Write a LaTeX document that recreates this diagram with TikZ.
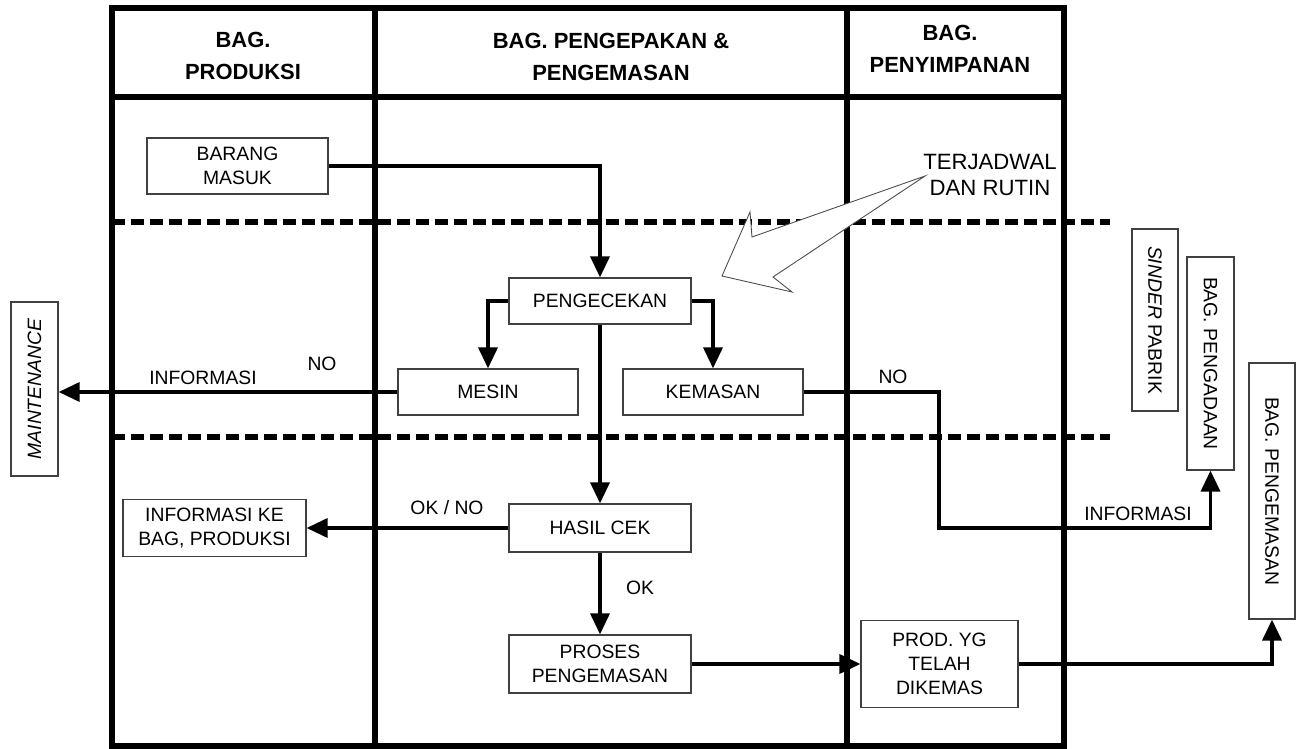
\documentclass[tikz,border=0pt]{standalone}
\usepackage{fontspec}
\setmainfont{Liberation Sans}
\usetikzlibrary{arrows.meta}

\begin{document}
\begin{tikzpicture}[x=0.02cm,y=-0.02cm,
  box/.style={draw=black!75, line width=0.7pt, fill=white, align=center,
    inner sep=0pt, font=\fontsize{11}{13.8}\selectfont},
  lbl/.style={font=\fontsize{11}{13.8}\selectfont, inner sep=0pt, align=center},
  hdr/.style={font=\bfseries\fontsize{12.5}{18}\selectfont, align=center, inner sep=0pt},
  frame/.style={line width=2.9pt},
  sep/.style={line width=3pt, dash pattern=on 0.26cm off 0.12cm},
  conn/.style={line width=2pt, -{Triangle[length=0.42cm,width=0.38cm]}},
  callout/.style={draw=black!70, line width=0.5pt, fill=white, line join=miter},
]
\useasboundingbox (0,0) rectangle (1296,749);

% swimlane frame
\draw[frame] (112,8) rectangle (1064,746);
\draw[frame] (112,97) -- (1064,97);
\draw[frame] (375,8) -- (375,746);
\draw[frame] (847,8) -- (847,746);

% phase separators
\draw[sep] (112,222) -- (1110,222);
\draw[sep] (112,437) -- (1110,437);

% lane headers
\node[hdr] (h1) at (243,56) {BAG.\\PRODUKSI};
\node[hdr] (h2) at (611,57) {BAG. PENGEPAKAN \&\\PENGEMASAN};
\node[hdr] (h3) at (950,49) {BAG.\\PENYIMPANAN};

% process boxes
\node[box, minimum width=3.62cm, minimum height=1.12cm] (barang) at (237.5,166) {BARANG\\MASUK};
\node[box, minimum width=3.64cm, minimum height=0.92cm] (cek) at (600,301) {PENGECEKAN};
\node[box, minimum width=3.6cm, minimum height=0.92cm] (mesin) at (488,392) {MESIN};
\node[box, minimum width=3.6cm, minimum height=0.92cm] (kemasan) at (713,392) {KEMASAN};
\node[box, minimum width=3.64cm, minimum height=0.96cm] (hasil) at (600,528) {HASIL CEK};
\node[box, minimum width=3.64cm, minimum height=1.16cm] (proses) at (600,664) {PROSES\\PENGEMASAN};
\node[box, minimum width=3.14cm, minimum height=1.74cm] (prod) at (939.5,664) {PROD. YG\\TELAH\\DIKEMAS};
\node[box, minimum width=3.66cm, minimum height=1.14cm] (infoke) at (214.5,528) {INFORMASI KE\\BAG, PRODUKSI};

% outside parties (vertical)
\node[box, rotate=90, minimum width=3.48cm, minimum height=0.94cm] (maint) at (34.5,389) {\itshape MAINTENANCE};
\node[box, rotate=-90, minimum width=3.64cm, minimum height=0.92cm] (sinder) at (1155,320) {\textit{SINDER} PABRIK};
\node[box, rotate=-90, minimum width=4.26cm, minimum height=0.94cm] (pengadaan) at (1210.5,363.5) {BAG. PENGADAAN};
\node[box, rotate=-90, minimum width=5.12cm, minimum height=0.92cm] (pengemasan) at (1272,491) {BAG. PENGEMASAN};

% connectors
\coordinate (bend) at (939,528);
\draw[conn] (barang.east) -| (cek.north);
\draw[conn] (cek.west) -| (mesin.north);
\draw[conn] (cek.east) -| (kemasan.north);
\draw[conn] (cek.south) -- (hasil.north);
\draw[conn] (hasil.west) -- (infoke.east);
\draw[conn] (hasil.south) -- (proses.north);
\draw[conn] (proses.east) -- (prod.west);
\draw[conn] (prod.east) -| (pengemasan.east);
\draw[conn] (mesin.west) -- (mesin.west -| maint.south);
\draw[conn] (kemasan.east) -| (bend) -| (pengadaan.east);

% connector labels
\node[lbl] (lInfoL) at (203,378) {INFORMASI};
\node[lbl] (lNoL) at (322,364) {NO};
\node[lbl] (lNoR) at (893,377) {NO};
\node[lbl] (lInfoR) at (1138,514) {INFORMASI};
\node[lbl] (lOkNo) at (447,508) {OK / NO};
\node[lbl] (lOk) at (640,588) {OK};
\node[lbl, font=\fontsize{12.6}{14.4}\selectfont] (lJadwal) at (990,175) {TERJADWAL\\DAN RUTIN};

% hollow callout arrow
\draw[callout] (925,176) -- (752,237) -- (750,212) -- (722,276)
  -- (792,292) -- (773,277) -- cycle;
\end{tikzpicture}
\end{document}
